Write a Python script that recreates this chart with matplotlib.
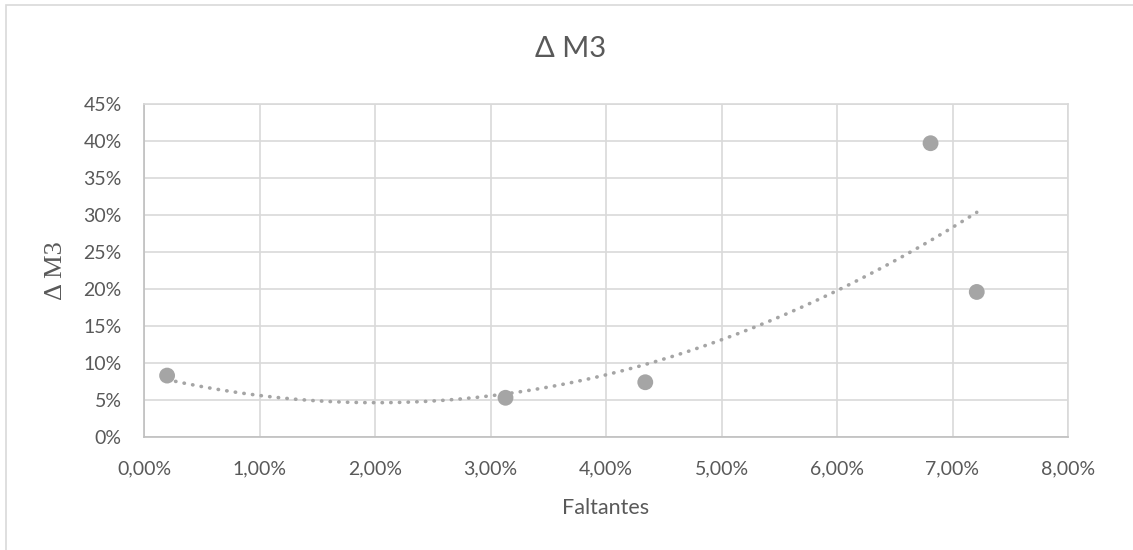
import numpy as np
import matplotlib
matplotlib.use("Agg")
import matplotlib.pyplot as plt
from matplotlib.ticker import FuncFormatter, MultipleLocator
from matplotlib.patches import Rectangle

# Faltantes (%) vs variation in M3 (%)
faltantes = [0.20, 3.13, 4.34, 6.81, 7.21]
delta_m3 = [8.3, 5.3, 7.4, 39.7, 19.6]

text_color = "#595959"
grid_color = "#d9d9d9"
point_color = "#a5a5a5"

plt.rcParams["font.family"] = ["Lato", "DejaVu Sans"]

W, H = 1133, 550
fig = plt.figure(figsize=(W / 100, H / 100), dpi=100)
ax = fig.add_axes([144 / W, 1 - 437 / H, 924 / W, 333 / H])

# outer chart frame
fig.patches.append(Rectangle((6 / W, -0.1), 1.2, 1.1 - 5 / H, transform=fig.transFigure,
                             fill=False, edgecolor="#d9d9d9", linewidth=1.2))

# order-2 polynomial trendline
coef = np.polyfit(faltantes, delta_m3, 2)
xs = np.linspace(min(faltantes), max(faltantes), 200)
ax.plot(xs, np.polyval(coef, xs), color=point_color, linewidth=2.6,
        linestyle=(0, (0.1, 2.3)), dash_capstyle="round", zorder=2)

ax.scatter(faltantes, delta_m3, s=130, color=point_color, edgecolors="none", zorder=3)

ax.set_xlim(0, 8)
ax.set_ylim(0, 45)
ax.xaxis.set_major_locator(MultipleLocator(1))
ax.yaxis.set_major_locator(MultipleLocator(5))
ax.xaxis.set_major_formatter(FuncFormatter(lambda v, p: f"{v:.2f}%".replace(".", ",")))
ax.yaxis.set_major_formatter(FuncFormatter(lambda v, p: f"{v:.0f}%"))

ax.grid(True, color=grid_color, linewidth=1.2)
ax.set_axisbelow(True)
for side in ["top", "right"]:
    ax.spines[side].set_color(grid_color)
    ax.spines[side].set_linewidth(1.2)
for side in ["left", "bottom"]:
    ax.spines[side].set_color("#bfbfbf")
    ax.spines[side].set_linewidth(1.2)
ax.tick_params(length=0, labelsize=14, labelcolor=text_color)
ax.tick_params(axis="x", pad=17)
ax.tick_params(axis="y", pad=16)

fig.text(571 / W, 1 - 49 / H, "Δ M3", fontsize=21, color=text_color, ha="center", va="center")
ax.set_xlabel("Faltantes", fontsize=15.5, color=text_color, labelpad=15)
fig.text(56 / W, 1 - 271 / H, "Δ M3", fontsize=19, color=text_color, family="Liberation Serif",
         rotation=90, ha="center", va="center")

fig.savefig("out.png", dpi=100)
